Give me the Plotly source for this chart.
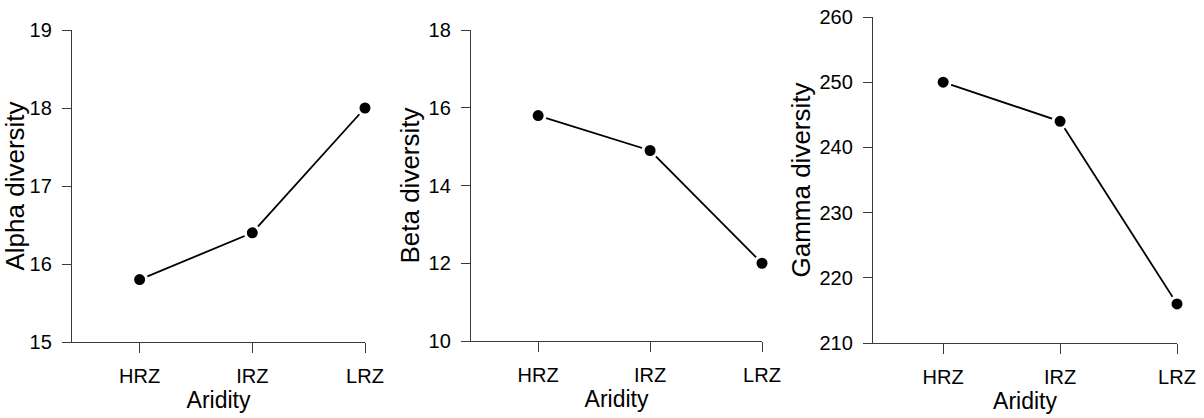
import plotly.graph_objects as go
from plotly.subplots import make_subplots

W, H = 1204, 418

zones = ["HRZ", "IRZ", "LRZ"]
alpha_div = [15.8, 16.4, 18.0]
beta_div = [15.8, 14.9, 12.0]
gamma_div = [250, 244, 216]

alpha_ticks = [15, 16, 17, 18, 19]
beta_ticks = [10, 12, 14, 16, 18]
gamma_ticks = [210, 220, 230, 240, 250, 260]

panels = [
    dict(y=alpha_div, ticks=alpha_ticks, title="Alpha diversity",
         xpx=(72, 365), ypx=(30, 342)),
    dict(y=beta_div, ticks=beta_ticks, title="Beta diversity",
         xpx=(471, 762), ypx=(30, 341)),
    dict(y=gamma_div, ticks=gamma_ticks, title="Gamma diversity",
         xpx=(873, 1177), ypx=(17, 343)),
]

FONT = "Arial, Liberation Sans, sans-serif"
AXIS_COLOR = "#3a3a3a"
TEXT_COLOR = "#000"

fig = make_subplots(rows=1, cols=3)

for i, p in enumerate(panels, start=1):
    fig.add_trace(
        go.Scatter(
            x=zones, y=p["y"], mode="lines+markers",
            line=dict(color="black", width=1.8),
            marker=dict(color="black", size=14,
                        line=dict(color="white", width=3)),
            cliponaxis=False, showlegend=False,
        ),
        row=1, col=i,
    )
    x0, x1 = p["xpx"]
    top, bot = p["ypx"]
    fig.update_xaxes(
        domain=[x0 / W, x1 / W], type="category", range=[-0.6, 2],
        automargin=False,
        showline=True, linecolor=AXIS_COLOR, linewidth=1.3,
        ticks="outside", ticklen=10, tickwidth=1.3, tickcolor=AXIS_COLOR,
        showgrid=False, zeroline=False, ticklabelstandoff=6,
        tickfont=dict(family=FONT, size=20, color=TEXT_COLOR),
        title=dict(text="Aridity", standoff=0,
                   font=dict(family=FONT, size=23, color=TEXT_COLOR)),
        row=1, col=i,
    )
    fig.update_yaxes(
        domain=[(H - bot) / H, (H - top) / H],
        range=[p["ticks"][0], p["ticks"][-1]],
        tickvals=p["ticks"],
        automargin=False,
        showline=True, linecolor=AXIS_COLOR, linewidth=1.3,
        ticks="outside", ticklen=9, tickwidth=1.3, tickcolor=AXIS_COLOR,
        showgrid=False, zeroline=False, ticklabelstandoff=6,
        tickfont=dict(family=FONT, size=20, color=TEXT_COLOR),
        title=dict(text=p["title"], standoff=1,
                   font=dict(family=FONT, size=26, color=TEXT_COLOR)),
        row=1, col=i,
    )

fig.update_layout(
    width=W, height=H,
    margin=dict(l=0, r=0, t=0, b=0),
    paper_bgcolor="white", plot_bgcolor="white",
)

fig.write_html("out.html")
